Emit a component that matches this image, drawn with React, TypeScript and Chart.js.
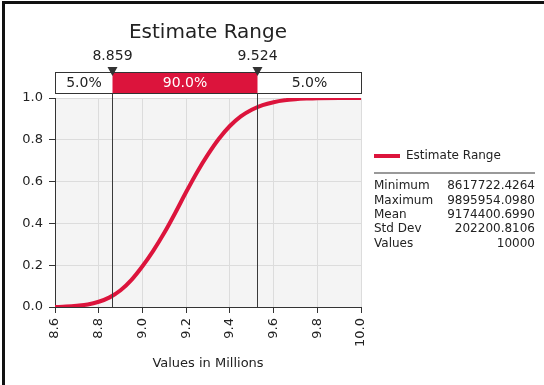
import React, { useEffect, useRef } from "react";
import { Chart, registerables } from "chart.js";

Chart.register(...registerables);

const chartTitle = "Estimate Range";
const seriesLabel = "Estimate Range";
const xAxisTitle = "Values in Millions";

const xValues = [8.6, 8.65, 8.7, 8.75, 8.8, 8.85, 8.9, 8.95, 9.0, 9.05, 9.1, 9.15, 9.2, 9.25, 9.3, 9.35, 9.4, 9.45, 9.5, 9.55, 9.6, 9.65, 9.7, 9.75, 9.8, 9.9, 10.0];
const cumProb = [0.0, 0.002, 0.006, 0.012, 0.025, 0.046, 0.08, 0.13, 0.195, 0.27, 0.355, 0.45, 0.55, 0.645, 0.73, 0.805, 0.866, 0.912, 0.944, 0.966, 0.98, 0.989, 0.994, 0.997, 0.999, 1.0, 1.0];

const markerValues = [8.859, 9.524];
const markerLabels = ["8.859", "9.524"];
const bandPercents = ["5.0%", "90.0%", "5.0%"];

const statNames = ["Minimum", "Maximum", "Mean", "Std Dev", "Values"];
const statValues = ["8617722.4264", "9895954.0980", "9174400.6990", "202200.8106", "10000"];

const RED = "#dc143c";
const FONT = "'DejaVu Sans', Verdana, sans-serif";

const overlayPlugin = {
  id: "overlay",
  beforeDraw(chart: any) {
    const { ctx, chartArea: a } = chart;
    ctx.save();
    ctx.fillStyle = "#ffffff";
    ctx.fillRect(0, 0, chart.width, chart.height);
    ctx.fillStyle = "#f4f4f4";
    ctx.fillRect(a.left, a.top, a.right - a.left, a.bottom - a.top);
    ctx.restore();
  },
  afterDatasetsDraw(chart: any) {
    const { ctx, chartArea: a } = chart;
    const xs = chart.scales.x;
    const mx = markerValues.map((v) => Math.round(xs.getPixelForValue(v)) + 0.5);
    ctx.save();
    ctx.strokeStyle = "#3a3a3a";
    ctx.lineWidth = 1;
    mx.forEach((x) => {
      ctx.beginPath();
      ctx.moveTo(x, a.top - 24);
      ctx.lineTo(x, a.bottom);
      ctx.stroke();
    });
    ctx.restore();
  },
  afterDraw(chart: any) {
    const { ctx, chartArea: a } = chart;
    const xs = chart.scales.x;
    ctx.save();
    // outer frame
    ctx.fillStyle = "#111111";
    ctx.fillRect(2, 1, 3, chart.height);
    ctx.fillRect(2, 1, chart.width, 3);

    // title
    ctx.fillStyle = "#222222";
    ctx.font = `20px ${FONT}`;
    ctx.textAlign = "center";
    ctx.textBaseline = "middle";
    ctx.fillText(chartTitle, (a.left + a.right) / 2, 33);

    // band
    const bTop = a.top - 26;
    const bBot = a.top - 5;
    const mx = markerValues.map((v) => Math.round(xs.getPixelForValue(v)) + 0.5);
    const left = Math.round(a.left) + 0.5;
    const right = Math.round(a.right) + 0.5;
    ctx.fillStyle = "#ffffff";
    ctx.fillRect(left, bTop, right - left, bBot - bTop);
    ctx.fillStyle = RED;
    ctx.fillRect(mx[0], bTop, mx[1] - mx[0], bBot - bTop);
    ctx.strokeStyle = "#333333";
    ctx.lineWidth = 1;
    ctx.strokeRect(left, bTop + 0.5, right - left, bBot - bTop);

    ctx.font = `14px ${FONT}`;
    const segs = [
      [left, mx[0]],
      [mx[0], mx[1]],
      [mx[1], right],
    ];
    segs.forEach((s, i) => {
      ctx.fillStyle = i === 1 ? "#ffffff" : "#222222";
      ctx.fillText(bandPercents[i], (s[0] + s[1]) / 2, (bTop + bBot) / 2 + 1);
    });

    // marker labels and triangles
    mx.forEach((x, i) => {
      ctx.fillStyle = "#222222";
      ctx.font = `14px ${FONT}`;
      ctx.fillText(markerLabels[i], x, 56);
      ctx.fillStyle = "#333333";
      ctx.beginPath();
      ctx.moveTo(x - 5, bTop - 5);
      ctx.lineTo(x + 5, bTop - 5);
      ctx.lineTo(x, bTop + 4);
      ctx.closePath();
      ctx.fill();
    });

    // legend
    const lx = 374;
    ctx.strokeStyle = RED;
    ctx.lineWidth = 4;
    ctx.beginPath();
    ctx.moveTo(lx, 156);
    ctx.lineTo(lx + 26, 156);
    ctx.stroke();
    ctx.fillStyle = "#222222";
    ctx.font = `12px ${FONT}`;
    ctx.textAlign = "left";
    ctx.fillText(seriesLabel, lx + 32, 156);
    ctx.strokeStyle = "#999999";
    ctx.lineWidth = 2;
    ctx.beginPath();
    ctx.moveTo(lx, 173);
    ctx.lineTo(535, 173);
    ctx.stroke();
    statNames.forEach((n, i) => {
      const y = 186 + i * 14.4;
      ctx.textAlign = "left";
      ctx.fillText(n, lx, y);
      ctx.textAlign = "right";
      ctx.fillText(statValues[i], 535, y);
    });
    ctx.restore();
  },
};

export default function App() {
  const ref = useRef<HTMLCanvasElement | null>(null);
  useEffect(() => {
    if (!ref.current) return;
    const chart = new Chart(ref.current, {
      type: "line",
      data: {
        datasets: [
          {
            label: seriesLabel,
            data: xValues.map((x, i) => ({ x, y: cumProb[i] })),
            borderColor: RED,
            backgroundColor: RED,
            borderWidth: 4,
            pointRadius: 0,
            cubicInterpolationMode: "monotone",
            fill: false,
          },
        ],
      },
      options: {
        animation: false,
        responsive: false,
        layout: { padding: { left: 0, right: 183, top: 98, bottom: 0 } },
        plugins: {
          legend: { display: false },
          title: { display: false },
          tooltip: { enabled: false },
        },
        scales: {
          x: {
            type: "linear",
            min: 8.6,
            max: 10.0,
            afterFit: (s: any) => {
              s.height = 78;
            },
            ticks: {
              stepSize: 0.2,
              minRotation: 90,
              maxRotation: 90,
              padding: 5,
              color: "#222222",
              font: { family: FONT, size: 13 },
              callback: (v: any) => Number(v).toFixed(1),
            },
            grid: { color: "#dcdcdc", tickColor: "#333333", tickLength: 6 },
            border: { display: true, color: "#333333" },
            title: {
              display: true,
              text: xAxisTitle,
              color: "#222222",
              font: { family: FONT, size: 13 },
              padding: { top: 0, bottom: 14 },
            },
          },
          y: {
            min: 0,
            max: 1,
            afterFit: (s: any) => {
              s.width = 55;
            },
            ticks: {
              stepSize: 0.2,
              padding: 6,
              color: "#222222",
              font: { family: FONT, size: 13 },
              callback: (v: any) => Number(v).toFixed(1),
            },
            grid: { color: "#dcdcdc", tickColor: "#333333", tickLength: 6 },
            border: { display: true, color: "#333333" },
          },
        },
      },
      plugins: [overlayPlugin],
    });
    return () => chart.destroy();
  }, []);
  return (
    <div style={{ position: "absolute", left: 0, top: 0, width: 544, height: 385 }}>
      <canvas ref={ref} width={544} height={385} style={{ display: "block" }} />
    </div>
  );
}
